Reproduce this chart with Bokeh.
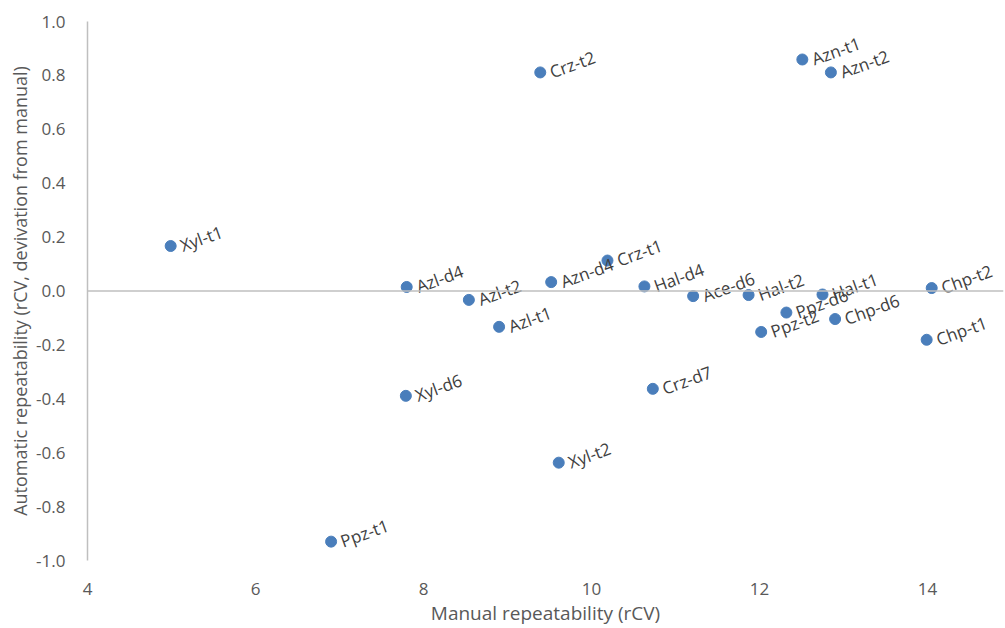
from bokeh.plotting import figure
from bokeh.models import Range1d, Span, FixedTicker, NumeralTickFormatter, ColumnDataSource
from bokeh.core.properties import value
from bokeh.embed import file_html
from bokeh.resources import INLINE

# Data
labels = ["Xyl-t1", "Azl-d4", "Azl-t2", "Azl-t1", "Xyl-d6", "Xyl-t2", "Ppz-t1",
          "Crz-t2", "Azn-d4", "Crz-t1", "Hal-d4", "Crz-d7", "Ace-d6", "Hal-t2",
          "Ppz-d6", "Hal-t1", "Ppz-t2", "Chp-d6", "Azn-t1", "Azn-t2", "Chp-t2", "Chp-t1"]
manual_rcv = [4.99, 7.80, 8.54, 8.90, 7.79, 9.61, 6.90,
              9.39, 9.52, 10.19, 10.63, 10.73, 11.21, 11.87,
              12.32, 12.75, 12.02, 12.90, 12.51, 12.85, 14.05, 13.99]
auto_dev = [0.167, 0.015, -0.033, -0.133, -0.389, -0.637, -0.930,
            0.811, 0.033, 0.113, 0.017, -0.363, -0.019, -0.015,
            -0.080, -0.013, -0.152, -0.104, 0.859, 0.811, 0.011, -0.181]
x_ticks = [4, 6, 8, 10, 12, 14]
y_ticks = [-1.0, -0.8, -0.6, -0.4, -0.2, 0.0, 0.2, 0.4, 0.6, 0.8, 1.0]
x_title = "Manual repeatability (rCV)"
y_title = "Automatic repeatability (rCV, devivation from manual)"

FONT = "Open Sans"
src = ColumnDataSource(dict(x=manual_rcv, y=auto_dev, label=labels))

p = figure(width=1005, height=628, output_backend="svg", toolbar_location=None,
           x_range=Range1d(4, 4 + 916 / 84), y_range=Range1d(-1.0, 1.0),
           min_border_left=87, min_border_right=2, min_border_top=21, min_border_bottom=67)
p.outline_line_color = None
p.xgrid.visible = False
p.ygrid.visible = False
p.background_fill_color = "white"
p.border_fill_color = "white"

p.add_layout(Span(location=0, dimension="width", line_color="#bfbfbf", line_width=1.5))

p.scatter("x", "y", source=src, size=11, fill_color="#4a7ebb", line_color="#4a7ebb")
p.text("x", "y", text="label", source=src, angle=20, angle_units="deg",
       x_offset=10, text_align="left", text_baseline="middle",
       text_font=value(FONT), text_font_size="17px", text_color="#404040")

xa = p.xaxis[0]
xa.ticker = FixedTicker(ticks=x_ticks)
xa.axis_line_color = None
xa.major_tick_line_color = None
xa.minor_tick_line_color = None
xa.major_label_standoff = 16
xa.major_label_text_font = FONT
xa.major_label_text_font_size = "17px"
xa.major_label_text_color = "#595959"
xa.axis_label = x_title
xa.axis_label_standoff = 2
xa.axis_label_text_font = FONT
xa.axis_label_text_font_size = "19px"
xa.axis_label_text_font_style = "normal"
xa.axis_label_text_color = "#595959"

ya = p.yaxis[0]
ya.ticker = FixedTicker(ticks=y_ticks)
ya.formatter = NumeralTickFormatter(format="0.0")
ya.axis_line_color = "#bfbfbf"
ya.axis_line_width = 1.5
ya.major_tick_line_color = None
ya.minor_tick_line_color = None
ya.major_label_standoff = 16
ya.major_label_text_font = FONT
ya.major_label_text_font_size = "17px"
ya.major_label_text_color = "#595959"
ya.axis_label = y_title
ya.axis_label_standoff = 1
ya.axis_label_text_font = FONT
ya.axis_label_text_font_size = "18px"
ya.axis_label_text_font_style = "normal"
ya.axis_label_text_color = "#595959"

open("out.html", "w").write(file_html(p, INLINE))
